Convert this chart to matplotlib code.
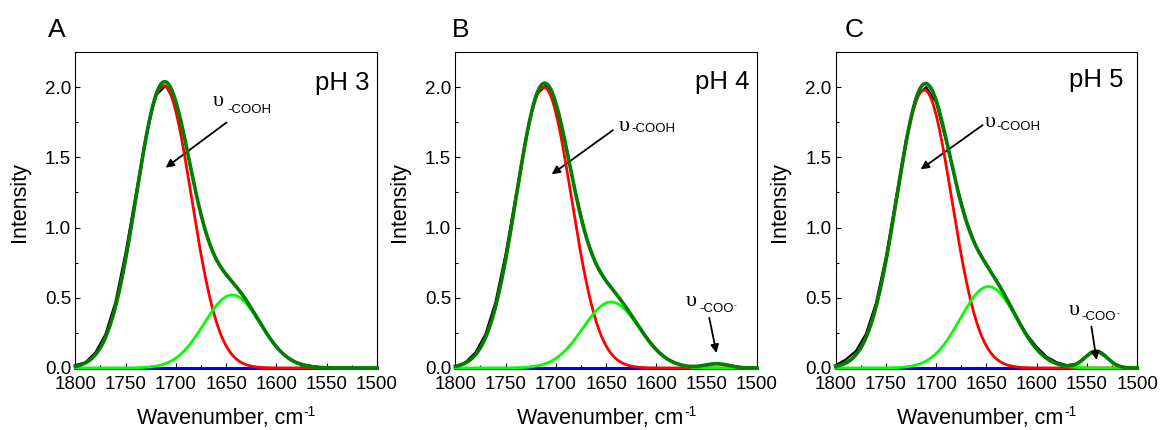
import numpy as np
import matplotlib.pyplot as plt

plt.rcParams['font.family'] = ['Liberation Sans', 'DejaVu Sans']

# measured spectra, sampled every 10 cm-1 from 1800 down to 1500
wavenumber = np.arange(1800, 1499, -10)

spectrum_ph3 = [0.02, 0.04, 0.11, 0.24, 0.47, 0.82, 1.23, 1.64, 1.94, 2.01,
                1.88, 1.59, 1.24, 0.96, 0.77, 0.66, 0.58, 0.48, 0.37, 0.25,
                0.15, 0.08, 0.04, 0.02, 0.01, 0.00, 0.00, 0.00, 0.00, 0.00, 0.00]
spectrum_ph4 = [0.01, 0.04, 0.11, 0.24, 0.47, 0.81, 1.22, 1.63, 1.94, 2.01,
                1.88, 1.58, 1.24, 0.94, 0.74, 0.62, 0.53, 0.43, 0.32, 0.22,
                0.13, 0.07, 0.03, 0.01, 0.01, 0.02, 0.03, 0.02, 0.01, 0.00, 0.00]
spectrum_ph5 = [0.02, 0.06, 0.12, 0.24, 0.46, 0.79, 1.21, 1.63, 1.93, 2.00,
                1.89, 1.61, 1.31, 1.05, 0.86, 0.74, 0.62, 0.49, 0.36, 0.24,
                0.15, 0.08, 0.04, 0.02, 0.03, 0.09, 0.12, 0.07, 0.02, 0.00, 0.00]

# fitted gaussian bands: (centre, height, sigma)
peaks_ph3 = [(1712, 2.01, 27.5), (1644, 0.52, 28)]
peaks_ph4 = [(1712, 2.00, 27.5), (1645, 0.47, 28), (1540, 0.03, 12)]
peaks_ph5 = [(1712, 1.98, 27.5), (1648, 0.58, 28), (1541, 0.12, 11)]

spectra = [spectrum_ph3, spectrum_ph4, spectrum_ph5]
peaks = [peaks_ph3, peaks_ph4, peaks_ph5]
ph_labels = ['pH 3', 'pH 4', 'pH 5']
panel_letters = ['A', 'B', 'C']

# annotation geometry (data coords): arrow tail, arrow head, upsilon pos, subscript pos
cooh_notes = [
    ((1649.5, 1.748), (1710.1, 1.426), (1663.1, 1.864), (1649.2, 1.814)),
    ((1643.2, 1.693), (1704.1, 1.379), (1637.9, 1.686), (1624.6, 1.679)),
    ((1653.8, 1.729), (1715.5, 1.414), (1652.2, 1.714), (1639.9, 1.696)),
]
coo_notes = [
    None,
    ((1547.4, 0.357), (1540.2, 0.107), (1570.7, 0.439), (1557.4, 0.400)),
    ((1545.6, 0.295), (1540.5, 0.057), (1568.7, 0.379), (1555.1, 0.339)),
]


def gauss(x, c, h, s):
    return h * np.exp(-(x - c) ** 2 / (2 * s * s))


x = np.linspace(1800, 1500, 601)

fig = plt.figure(figsize=(11.6, 4.3), dpi=100)
lefts = [0.0649, 0.3925, 0.7204]
letter_x = [0.0414, 0.3897, 0.7284]
ph_pos = [(0.977, 0.880), (0.977, 0.882), (0.956, 0.888)]

for i in range(3):
    ax = fig.add_axes([lefts[i], 0.1442, 0.260, 0.735])

    ax.plot(wavenumber, spectra[i], color='black', lw=1.6, zorder=3, clip_on=False)
    ax.plot([1800, 1500], [0, 0], color='#0000ff', lw=2.2, zorder=3.1, clip_on=False)

    fit = np.zeros_like(x)
    for k, (c, h, s) in enumerate(peaks[i]):
        y = gauss(x, c, h, s)
        fit += y
        if k == 0:
            ax.plot(x, y, color='#ff0000', lw=2.0, zorder=3.2, clip_on=False)
        elif k == 1:
            ax.plot(x, y, color='#00ff00', lw=2.0, zorder=3.3, clip_on=False)
        else:
            m = x <= 1565
            ax.plot(x[m], y[m], color='#00ff00', lw=2.0, zorder=3.3, clip_on=False)
    ax.plot(x, fit, color='#007f00', lw=2.6, zorder=3.5, clip_on=False)

    ax.set_xlim(1800, 1500)
    ax.set_ylim(0, 2.25)
    ax.set_xticks(np.arange(1800, 1499, -50))
    ax.set_xticks(np.arange(1800, 1499, -25), minor=True)
    ax.set_yticks(np.arange(0, 2.01, 0.5))
    ax.set_yticks(np.arange(0, 2.26, 0.25), minor=True)
    ax.tick_params(which='both', direction='in', top=False, right=False, labelsize=13.5)
    ax.tick_params(axis='x', which='major', pad=6)
    ax.tick_params(axis='y', which='major', pad=3)
    ax.tick_params(which='major', length=3.5, width=0.8)
    ax.tick_params(which='minor', length=2, width=0.8)
    for sp in ax.spines.values():
        sp.set_linewidth(0.8)

    xl = ax.set_xlabel('Wavenumber, cm', fontsize=15.5)
    ax.xaxis.set_label_coords(0.48, -0.125)
    ax.annotate('-1', xy=(1, 1), xycoords=xl, xytext=(0.5, 1.5),
                textcoords='offset points', ha='left', va='top', fontsize=10)
    ax.set_ylabel('Intensity', fontsize=15.5)
    ax.yaxis.set_label_coords(-0.15, 0.525)

    ax.text(ph_pos[i][0], ph_pos[i][1], ph_labels[i], transform=ax.transAxes,
            ha='right', va='baseline', fontsize=18.5)
    fig.text(letter_x[i], 0.914, panel_letters[i], ha='left', va='baseline', fontsize=19)

    tail, head, ups, sub = cooh_notes[i]
    ax.annotate('', xy=head, xytext=tail,
                arrowprops=dict(arrowstyle='-|>', color='black', lw=1.3,
                                mutation_scale=12, shrinkA=0, shrinkB=0))
    ax.text(ups[0], ups[1], 'υ', family=['Liberation Serif', 'DejaVu Serif'],
            fontsize=16, va='baseline', ha='left')
    ax.text(sub[0], sub[1], '-COOH', fontsize=9.5, va='baseline', ha='left')

    if coo_notes[i] is not None:
        tail, head, ups, sub = coo_notes[i]
        ax.annotate('', xy=head, xytext=tail, zorder=4,
                    arrowprops=dict(arrowstyle='-|>', color='black', lw=1.3,
                                    mutation_scale=12, shrinkA=0, shrinkB=0))
        ax.text(ups[0], ups[1], 'υ', family=['Liberation Serif', 'DejaVu Serif'],
                fontsize=16, va='baseline', ha='left')
        st = ax.text(sub[0], sub[1], '-COO', fontsize=9.5, va='baseline', ha='left')
        ax.annotate('-', xy=(1, 1), xycoords=st, xytext=(0.3, 0.5),
                    textcoords='offset points', ha='left', va='top', fontsize=6)

fig.savefig('out.png', dpi=100)
